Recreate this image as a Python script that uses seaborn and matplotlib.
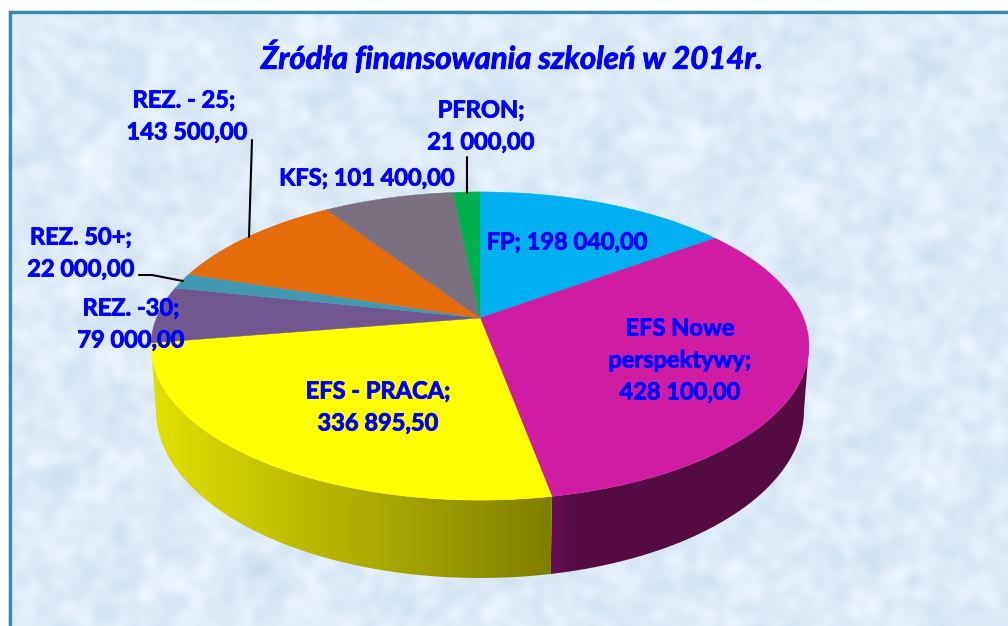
import numpy as np
import matplotlib
matplotlib.use("Agg")
import matplotlib.pyplot as plt
import matplotlib.patheffects as pe
from matplotlib.patches import Polygon
import seaborn as sns

# data
categories = ["FP", "EFS Nowe perspektywy", "EFS - PRACA", "REZ. -30", "REZ. 50+", "REZ. - 25", "KFS", "PFRON"]
values = [198040.00, 428100.00, 336895.50, 79000.00, 22000.00, 143500.00, 101400.00, 21000.00]
labels = ["FP; 198 040,00", "EFS Nowe\nperspektywy;\n428 100,00", "EFS - PRACA;\n336 895,50",
          "REZ. -30;\n79 000,00", "REZ. 50+;\n22 000,00", "REZ. - 25; \n143 500,00",
          "KFS; 101 400,00", "PFRON;\n21 000,00"]
title = "Źródła finansowania szkoleń w 2014r."

colors = sns.color_palette(["#00B0F0", "#CF1CA3", "#FFFF00", "#70588E", "#4198AF", "#E46C0A", "#7A7080", "#00B050"])
label_pos = [(567, 242), (680, 360), (378, 407), (131, 324), (81, 253), (187, 116), (367, 178), (481, 126)]

sns.set_theme(style="white")
plt.rcParams["font.family"] = ["Lato", "DejaVu Sans"]

# perspective of the disc, in pixels
CX, K = 480, 0.1818
TOP = dict(cy=318, r=323.5, b=149)
BOTTOM = dict(cy=380, r=318.6, b=162)


def project(theta, disc):
    # theta measured clockwise from 12 o'clock
    x = np.sin(theta)
    y = np.cos(theta)
    d = 1 + K * y
    return CX + disc["r"] * x / d, disc["cy"] - disc["b"] * y / d


def texture(w, h):
    yy, xx = np.mgrid[0:h, 0:w]
    tex = np.zeros((h, w))
    for n in range(1, 220):
        ang = n * 2.39996
        freq = 0.05 + 0.014 * (n % 23)
        tex += np.sin(freq * (xx * np.cos(ang) + yy * np.sin(ang)) + n * 1.7) / (1 + 0.08 * (n % 23))
    tex = (tex - tex.mean()) / tex.std()
    base = np.array([222, 235, 247]) / 255
    amp = np.array([0.017, 0.013, 0.010])
    return np.clip(base + tex[..., None] * amp, 0, 1)


def draw_wall(i, start, stop, shade_x, shade):
    # side of one slice, shaded along x and clipped to the rim shape
    tt = np.linspace(start, stop, 200)
    xt, yt = project(tt, TOP)
    xb, yb = project(tt[::-1], BOTTOM)
    xs, ys = np.r_[xt, xb], np.r_[yt, yb]
    px = np.arange(int(xs.min()) - 1, int(xs.max()) + 2)
    grad = np.interp(px, shade_x, shade)[None, :, None] * np.array(colors[i])
    im = ax.imshow(grad, extent=(px[0], px[-1], ys.max() + 1, ys.min() - 1), aspect="auto", zorder=2,
                   interpolation="bilinear")
    poly = Polygon(np.c_[xs, ys], transform=ax.transData, fc="none", ec="none")
    ax.add_patch(poly)
    im.set_clip_path(poly)


fig = plt.figure(figsize=(10.08, 6.26), dpi=100, facecolor="white")
ax = fig.add_axes([0, 0, 1, 1])
ax.axis("off")

ax.imshow(texture(1000, 616), extent=(8, 1008, 626, 10), aspect="auto", zorder=0, interpolation="bilinear")
ax.plot([9.5, 9.5, 1008], [626, 11.5, 11.5], color="#3B8AA5", lw=2.4, zorder=1, solid_joinstyle="miter")

edges = np.concatenate([[0], np.cumsum(values)]) / np.sum(values) * 2 * np.pi

# only the two front slices show a side, from one widest point of the rim to the other
widest = np.arccos(-K)
draw_wall(1, widest, edges[2], [552, 575], [0.49, 0.41])
draw_wall(2, edges[2], 2 * np.pi - widest, [152, 552], [0.88, 0.50])

# top face
for i in range(len(values)):
    tt = np.linspace(edges[i], edges[i + 1], 200)
    xs, ys = project(tt, TOP)
    ax.fill(np.r_[CX, xs], np.r_[TOP["cy"], ys], color=colors[i], lw=0.3, zorder=3)

# leader lines
ax.plot([252, 249], [140, 237], color="black", lw=1.5, zorder=4)
ax.plot([467, 467], [157, 193], color="black", lw=1.5, zorder=4)
ax.plot([139, 152, 183], [275, 275, 281], color="black", lw=1.5, zorder=4)

bold = [pe.withStroke(linewidth=0.6, foreground="#0000FF")]
for text, (lx, ly) in zip(labels, label_pos):
    ax.text(lx, ly, text, color="#0000FF", fontsize=17, fontweight="bold", ha="center", va="center",
            linespacing=1.47, zorder=5, path_effects=bold)

ax.text(512, 58, title, color="#0000FF", fontsize=22.4, fontweight="bold", fontstyle="italic",
        ha="center", va="center", zorder=5, path_effects=bold)

ax.set_xlim(0, 1008)
ax.set_ylim(626, 0)
fig.savefig("out.png", dpi=100)
